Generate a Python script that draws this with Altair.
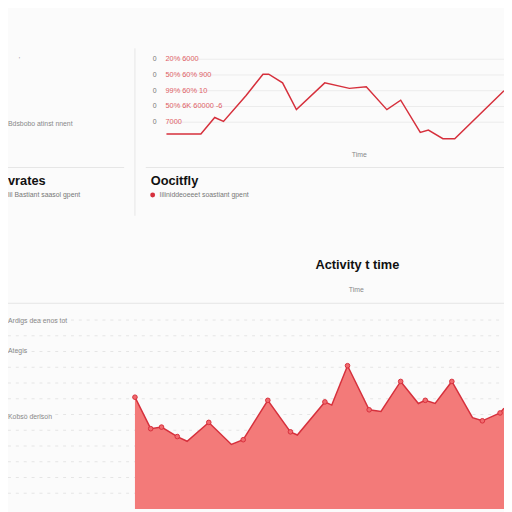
import altair as alt
import pandas as pd

# ---- data ----
top_t = [0, 10.2, 14.3, 16.9, 23.6, 28.6, 30.3, 34.4, 38.5, 46.9, 54.2, 59.2, 65.3, 69.4, 75.2, 77.6, 81.9, 85.4, 100]
top_v = [10, 10, 31, 26, 59, 86, 86, 75, 41, 75, 68, 70, 41, 53, 12, 15, 4, 4, 65]
top_grid = [105, 85, 65, 45, 25]
top_labels = ["20% 6000", "50% 60% 900", "99% 60% 10", "50% 6K 60000 -6", "7000"]

bot_t = [0, 3.2, 5.4, 8.6, 10.6, 15, 19.6, 22, 27, 31.6, 33, 38.6, 40, 43.2, 47.6, 50, 54, 57.6, 59, 61, 64.4, 68.6, 70.6, 74.2, 75]
bot_v = [71, 51, 52, 46, 43, 55, 41, 44, 69, 49, 47, 68, 66, 91, 63, 62, 81, 67, 69, 67, 81, 58, 56, 61, 64]
bot_mark = [1, 1, 1, 1, 0, 1, 0, 1, 1, 1, 0, 1, 0, 1, 1, 0, 1, 0, 1, 0, 1, 0, 1, 1, 0]
bot_grid = [10, 20, 30, 40, 50, 60, 70, 80, 90, 100, 110, 120]

FONT = "Liberation Sans"
RED = "#d6303c"

top_df = pd.DataFrame({"t": top_t, "v": top_v})
top_grid_df = pd.DataFrame({"g": top_grid, "lab": top_labels})
bot_df = pd.DataFrame({"t": bot_t, "v": bot_v, "m": bot_mark})
bot_grid_df = pd.DataFrame({"g": bot_grid})
one = pd.DataFrame({"k": [0]})

# scales (pixel ranges inside one canvas)
tx = alt.Scale(domain=[0, 100], range=[161, 504])
ty = alt.Scale(domain=[0, 105], range=[132, 48])
bx = alt.Scale(domain=[0, 75], range=[129, 504])
by = alt.Scale(domain=[0, 120], range=[505, 313])


def txt(s, x, y, size=7, color="#888888", weight="normal", align="left"):
    return alt.Chart(one).mark_text(
        text=s, font=FONT, fontSize=size, fontWeight=weight, color=color,
        align=align, baseline="middle"
    ).encode(x=alt.value(x), y=alt.value(y))


def hline(x1, x2, y, color="#e6e6e6"):
    return alt.Chart(one).mark_rule(color=color, strokeWidth=1).encode(
        x=alt.value(x1), x2=alt.value(x2), y=alt.value(y))


def vline(x, y1, y2, color="#e6e6e6"):
    return alt.Chart(one).mark_rule(color=color, strokeWidth=1).encode(
        x=alt.value(x), y=alt.value(y1), y2=alt.value(y2))


# bottom dashed grid
bot_grid_layer = alt.Chart(bot_grid_df).mark_rule(
    color="#e4e4e4", strokeDash=[3, 5], strokeWidth=1
).encode(y=alt.Y("g:Q", scale=by, axis=None), x=alt.value(0), x2=alt.value(504))

bot_area = alt.Chart(bot_df).mark_area(color="#f37a79", opacity=1).encode(
    x=alt.X("t:Q", scale=bx, axis=None), y=alt.Y("v:Q", scale=by, axis=None))
bot_line = alt.Chart(bot_df).mark_line(color=RED, strokeWidth=1.5).encode(
    x=alt.X("t:Q", scale=bx, axis=None), y=alt.Y("v:Q", scale=by, axis=None))
bot_pts = alt.Chart(bot_df).transform_filter("datum.m == 1").mark_point(
    filled=True, fill="#f06a6e", stroke=RED, strokeWidth=1, size=22, opacity=1
).encode(x=alt.X("t:Q", scale=bx, axis=None), y=alt.Y("v:Q", scale=by, axis=None))

# top line chart
top_grid_layer = alt.Chart(top_grid_df).mark_rule(color="#ececec", strokeWidth=1).encode(
    y=alt.Y("g:Q", scale=ty, axis=None), x=alt.value(162), x2=alt.value(504))
top_zero = alt.Chart(top_grid_df).mark_text(
    text="0", font=FONT, fontSize=7, color="#777777", align="center", baseline="middle"
).encode(y=alt.Y("g:Q", scale=ty, axis=None), x=alt.value(149))
top_lab = alt.Chart(top_grid_df).mark_text(
    font=FONT, fontSize=7.5, color="#e06066", align="left", baseline="middle"
).encode(y=alt.Y("g:Q", scale=ty, axis=None), x=alt.value(160), text="lab:N")
top_line = alt.Chart(top_df).mark_line(color=RED, strokeWidth=1.5).encode(
    x=alt.X("t:Q", scale=tx, axis=None), y=alt.Y("v:Q", scale=ty, axis=None))

layers = [
    bot_grid_layer,
    bot_area, bot_line, bot_pts,
    top_grid_layer, top_zero, top_lab, top_line,
    vline(129, 37, 207),
    hline(0, 118, 158), hline(140, 504, 158),
    hline(0, 504, 296),
    txt("'", 11, 49, 7, "#999999"),
    txt("Bdsbobo atinst nnent", 0, 114),
    txt("vrates", 0, 172, 13, "#111111", "bold"),
    txt("lil Bastiant saasol gpent", 0, 186, 7, "#777777"),
    txt("Oocitfly", 145, 172, 13, "#111111", "bold"),
    alt.Chart(one).mark_point(filled=True, color=RED, size=25, opacity=1).encode(
        x=alt.value(147), y=alt.value(186)),
    txt("Iiliniddeoeeet soastiant gpent", 154, 186, 7, "#777777"),
    txt("Time", 357, 145, 7, "#888888", align="center"),
    txt("Activity t time", 355, 257, 13, "#111111", "bold", "center"),
    txt("Time", 354, 283, 7, "#888888", align="center"),
    txt("Ardigs dea enos tot", 0, 314),
    txt("Ategis", 0, 345),
    txt("Kobso derison", 0, 412),
]

chart = alt.layer(*layers).resolve_scale(
    x="independent", y="independent"
).properties(
    width=504, height=504, autosize="none", padding=0, background="#fbfbfb"
).configure_view(stroke=None)

chart.save("out.html", embed_options={"renderer": "svg", "actions": False})
